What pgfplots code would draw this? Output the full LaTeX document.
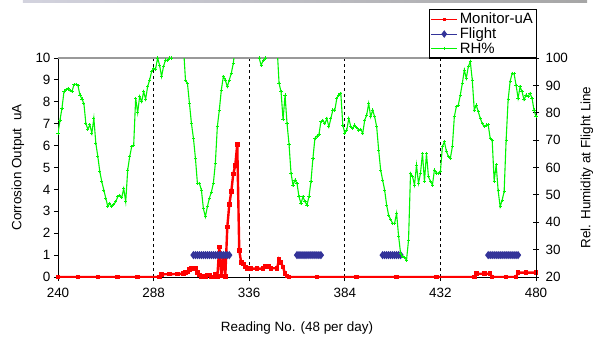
\documentclass[border=0pt]{standalone}
\usepackage{pgfplots}
\pgfplotsset{compat=1.18}
\usepackage{pgfplotstable}
\usepackage{fontspec}
\setmainfont{Liberation Sans}
\definecolor{rhgreen}{RGB}{0,245,0}
\definecolor{flightblue}{RGB}{51,51,153}
\definecolor{monred}{RGB}{255,0,0}

\pgfplotstableread{
x y
240 72.5
241 77.3
242 81.7
243 87.7
244 88.5
245 88.9
246 88.0
247 87.7
248 90.2
249 90.4
250 90.0
251 86.5
252 85.0
253 83.4
254 76.0
255 74.0
256 75.6
257 72.5
258 78.0
259 68.8
260 64.0
261 58.5
262 54.8
263 51.8
264 48.8
265 45.7
266 46.9
267 45.7
268 46.5
269 47.5
270 49.3
271 49.9
272 49.0
273 52.3
274 47.5
275 59.1
276 64.0
277 67.6
278 68.2
279 85.3
280 80.0
281 86.0
282 84.0
283 87.7
284 85.0
285 89.5
286 92.0
287 95.0
288 96.2
289 96.0
290 100.0
291 97.4
292 93.2
293 97.0
294 99.3
295 99.0
296 100.0
297 100.0
298 100.5
299 104
303 104
304 92.0
305 90.7
306 83.4
307 76.1
308 70.7
309 63.4
310 54.2
311 54.2
312 51.8
313 45.0
314 42.0
315 45.7
316 48.8
317 51.0
318 54.2
319 61.5
320 74.9
321 81.0
322 88.3
323 93.2
324 92.0
325 89.5
326 92.0
327 94.4
328 98.0
329 104
340 104
341 100.0
342 97.4
343 99.0
344 100.0
345 104
350 104
351 90.7
352 87.7
353 77.4
354 86.5
355 76.0
356 68.5
357 57.9
358 53.6
359 55.4
360 54.2
361 49.3
362 46.9
363 49.3
364 47.5
365 46.3
366 49.3
367 54.8
368 63.4
369 70.7
370 71.5
371 72.0
372 76.7
373 77.3
374 76.0
375 77.9
376 74.9
377 77.9
378 81.0
379 81.0
380 85.3
381 86.5
382 87.1
383 75.5
384 72.5
385 73.7
386 77.9
387 75.0
388 74.3
389 75.5
390 74.5
391 73.7
392 74.0
393 72.5
394 77.3
395 79.2
396 83.4
397 78.5
398 81.0
399 78.5
400 74.9
401 66.4
402 59.1
403 55.4
404 51.8
405 46.3
406 42.6
407 41.0
408 39.6
409 39.6
410 43.3
411 35.0
412 28.7
413 27.4
414 27.0
415 26.2
416 33.5
417 57.9
418 56.7
419 53.6
420 60.9
421 54.2
422 57.9
423 65.2
424 54.8
425 65.2
426 56.6
427 55.0
428 53.6
429 59.1
430 58.0
431 57.9
432 58.5
433 67.6
434 69.4
435 66.0
436 64.0
437 63.4
438 67.6
439 78.6
440 82.2
441 82.8
442 86.5
443 90.7
444 95.6
445 92.6
446 96.8
447 98.7
448 92.0
449 81.0
450 82.8
451 80.4
452 78.0
453 76.1
454 74.9
455 75.5
456 75.6
457 70.7
458 70.0
459 55.0
460 61.0
461 51.5
462 45.7
463 48.1
464 51.2
465 70.0
466 84.7
467 91.4
468 94.4
469 94.2
470 90.1
471 85.3
472 89.5
473 87.7
474 84.7
475 86.5
476 86.0
477 87.1
478 85.3
479 81.0
480 78.6
}\rhdata

\pgfplotstableread{
x y
240 0
250 0
260 0
270 0
280 0
291 0
292 0.12
296 0.13
300 0.14
303 0.15
304 0.2
305 0.22
306 0.34
307 0.38
309 0.38
310 0.2
311 0.1
312 0.02
314 0.02
315 0.1
316 0.1
317 0
318 0
319 0.12
320 0.02
321 1.37
322 0.05
323 0.95
324 0.02
325 2.28
326 3.3
327 3.9
328 4.7
329 5.1
330 6.05
331 1.22
332 0.65
333 0.6
334 0.46
335 0.4
337 0.38
340 0.38
343 0.38
344 0.48
346 0.48
347 0.4
350 0.4
351 0.8
352 0.65
353 0.45
354 0.15
355 0.05
356 0
370 0
390 0
410 0
430 0
449 0
450 0.15
454 0.15
457 0.15
458 0
465 0
470 0
471 0.2
475 0.2
480 0.2
}\mondata

\begin{document}
\begin{tikzpicture}
\begin{axis}[
  at={(0,0)}, anchor=south west,
  scale only axis, width=478bp, height=219bp,
  xmin=240, xmax=480, ymin=0, ymax=10,
  xtick={240,288,336,384,432,480}, ytick={0,1,...,10},
  axis x line*=bottom, axis y line*=left,
  axis line style={black, line width=0.9bp, -},
  xmajorgrids,
  major grid style={black, line width=0.9bp, dash pattern=on 3bp off 3bp},
  tick style={black, line width=0.9bp},
  major tick length=4bp,
  tick align=outside,
  ticklabel style={font=\fontsize{13.5}{15}\selectfont},
  xticklabel style={yshift=-4bp},
  /pgf/number format/assume math mode=true,
  every axis x label/.style={at={(axis description cs:0.5,-0.235)}, anchor=center},
  every axis y label/.style={at={(axis description cs:-0.0837,0.5)}, anchor=center, rotate=90},
  label style={font=\fontsize{13.5}{15}\selectfont},
  xlabel={Reading No. (48 per day)},
  ylabel={Corrosion Output\ \ uA},
]
\draw[black!40, line width=1.2bp] (rel axis cs:0,1) -- (rel axis cs:1,1);
\addplot[monred, line width=2.4bp, mark=square*, mark size=1.1bp] table[x=x,y=y] {\mondata};
\addplot[flightblue, line width=1.2bp, mark=diamond*, mark size=3.2bp] coordinates {
(308,1)(309,1)(310,1)(311,1)(312,1)(313,1)(314,1)(315,1)(316,1)(317,1)(318,1)(319,1)(320,1)(321,1)(322,1)(323,1)(324,1)(325,1)(326,1)
};
\addplot[flightblue, line width=1.2bp, mark=diamond*, mark size=3.2bp] coordinates {
(360,1)(361,1)(362,1)(363,1)(364,1)(365,1)(366,1)(367,1)(368,1)(369,1)(370,1)(371,1)(372,1)
};
\addplot[flightblue, line width=1.2bp, mark=diamond*, mark size=3.2bp] coordinates {
(403,1)(404,1)(405,1)(406,1)(407,1)(408,1)(409,1)(410,1)(411,1)(412,1)
};
\addplot[flightblue, line width=1.2bp, mark=diamond*, mark size=3.2bp] coordinates {
(456,1)(457,1)(458,1)(459,1)(460,1)(461,1)(462,1)(463,1)(464,1)(465,1)(466,1)(467,1)(468,1)(469,1)(470,1)(471,1)
};
\end{axis}
\begin{axis}[
  at={(0,0)}, anchor=south west,
  scale only axis, width=478bp, height=219bp,
  xmin=240, xmax=480, ymin=20, ymax=100,
  axis x line=none, axis y line*=right,
  axis line style={black, line width=0.9bp, -},
  ytick={20,30,...,100},
  tick style={black, line width=0.9bp},
  major tick length=6bp,
  tick align=center,
  ticklabel style={font=\fontsize{13.5}{15}\selectfont},
  yticklabel style={xshift=3bp},
  /pgf/number format/assume math mode=true,
  every axis y label/.style={at={(axis description cs:1.1067,0.5)}, anchor=center, rotate=90},
  label style={font=\fontsize{13.5}{15}\selectfont},
  ylabel={Rel. Humidity at Flight Line},
  legend style={at={(axis description cs:1.002,1.224)}, anchor=north east,
    draw=black, line width=1.2bp, fill=white, inner sep=1.5bp,
    font=\fontsize{15}{16}\selectfont, row sep=-1.5bp},
  legend cell align=left,
  legend image code/.code={\draw[mark repeat=2,mark phase=2,#1] plot coordinates {(0bp,0bp) (13bp,0bp) (26bp,0bp)};},
]
\addlegendimage{monred, line width=1bp, mark=square*, mark size=1.1bp}
\addlegendentry{Monitor-uA}
\addlegendimage{flightblue, line width=1bp, mark=diamond*, mark size=3bp}
\addlegendentry{Flight}
\addplot[rhgreen, line width=1.1bp, mark=+, mark size=1.6bp, mark options={line width=0.8bp}] table[x=x,y=y] {\rhdata};
\addlegendentry{RH\%}
\end{axis}
\shade[left color=blue!15!gray!30, right color=gray!70] (-35bp,274bp) rectangle (529bp,277bp);
\pgfresetboundingbox
\path (-58bp,-62bp) rectangle (535bp,277bp);
\end{tikzpicture}
\end{document}
